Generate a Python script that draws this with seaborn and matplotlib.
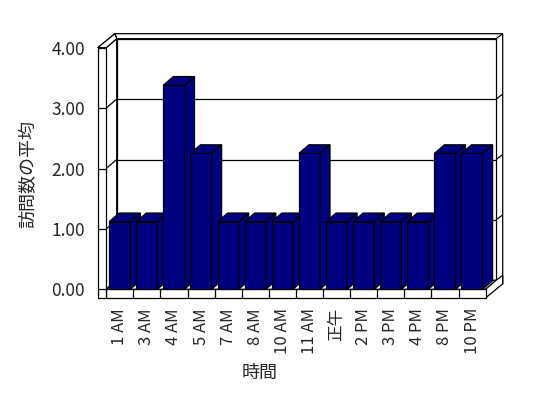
import matplotlib
matplotlib.use("Agg")
import matplotlib.pyplot as plt
from matplotlib.patches import Polygon
import seaborn as sns
import pandas as pd

# ---- data ----
hours = ["1 AM", "3 AM", "4 AM", "5 AM", "7 AM", "8 AM", "10 AM", "11 AM",
         "正午", "2 PM", "3 PM", "4 PM", "8 PM", "10 PM"]
avg_visits = [1.12, 1.12, 3.38, 2.25, 1.12, 1.12, 1.12, 2.25,
              1.12, 1.12, 1.12, 1.12, 2.25, 2.25]
y_ticks = [0, 1, 2, 3, 4]
y_tick_labels = ["0.00", "1.00", "2.00", "3.00", "4.00"]
x_title = "時間"
y_title = "訪問数の平均"

sns.set_style("white")
plt.rcParams["font.family"] = ["Noto Sans CJK JP", "DejaVu Sans"]

W, H = 548, 398
fig = plt.figure(figsize=(W / 100, H / 100), dpi=100)
fig.patch.set_facecolor("white")

# axes box = front plane of the 3D plot
left_px, right_px = 106.2, 485.6
bot_px, top_px = 289.3, 47.7
ax = fig.add_axes([left_px / W, 1 - bot_px / H,
                   (right_px - left_px) / W, (bot_px - top_px) / H])

df = pd.DataFrame({"hour": hours, "avg": avg_visits})
sns.barplot(data=df, x="hour", y="avg", order=hours, color="#000080",
            saturation=1, edgecolor="black", linewidth=0.9, width=0.78, ax=ax)
bars = list(ax.patches)

n = len(hours)
x0, x1 = -0.5, n - 0.5
ymax = 4.0
ax.set_xlim(x0, x1)
ax.set_ylim(0, ymax)
for s in ax.spines.values():
    s.set_visible(False)
ax.set_facecolor("none")

# depth offsets (in data units)
px_cat = (right_px - left_px) / n
px_val = (bot_px - top_px) / ymax
Dx, Dy = 10.5 / px_cat, 9.0 / px_val       # plot depth
Tx, Ty = 6.6 / px_cat, 5.0 / px_val        # back-wall thickness
bDx, bDy = 10.0 / px_cat, 8.6 / px_val     # bar depth
LW = 8.4 / px_cat                          # left wall thickness
FT = 8.6 / px_val                          # floor thickness
lw = 0.9
K = "black"


def line(xs, ys, z=2):
    ax.plot(xs, ys, color=K, lw=lw, clip_on=False, zorder=z,
            solid_capstyle="butt")


def poly(pts, fc="white", z=2):
    ax.add_patch(Polygon(pts, closed=True, facecolor=fc, edgecolor=K,
                         lw=lw, clip_on=False, zorder=z))


# back wall (outer slab + inner plane)
poly([(x0 - LW, ymax), (x0 + Dx, ymax + Dy), (x0 - LW + Dx + Tx, ymax + Dy + Ty)], z=1)
poly([(x0 - LW + Dx + Tx, ymax + Dy + Ty), (x1 + Dx + Tx, ymax + Dy + Ty),
      (x1 + Dx + Tx, -FT + Dy + Ty), (x1 + Dx, Dy), (x1 + Dx, ymax + Dy),
      (x0 + Dx, ymax + Dy)], z=1)
poly([(x0 + Dx, Dy), (x1 + Dx, Dy), (x1 + Dx, ymax + Dy), (x0 + Dx, ymax + Dy)], z=1)
line([x1 + Dx, x1 + Dx + Tx], [ymax + Dy, ymax + Dy + Ty], z=1.5)

# left wall inner side
poly([(x0, 0), (x0 + Dx, Dy), (x0 + Dx, ymax + Dy), (x0, ymax)], z=1.2)
# left wall top
poly([(x0 - LW, ymax), (x0, ymax), (x0 + Dx, ymax + Dy),
      (x0 - LW + Dx + Tx, ymax + Dy + Ty)], z=1.3)

# gridlines
for v in y_ticks[1:-1]:
    line([x0, x0 + Dx], [v, v + Dy], z=1.5)
    line([x0 + Dx, x1 + Dx], [v + Dy, v + Dy], z=1.5)
    line([x1 + Dx, x1 + Dx + Tx], [v + Dy, v + Dy + Ty], z=1.5)

# floor top
poly([(x0, 0), (x1, 0), (x1 + Dx, Dy), (x0 + Dx, Dy)], z=1.6)
# floor right side
poly([(x1, 0), (x1, -FT), (x1 + Dx + Tx, -FT + Dy + Ty), (x1 + Dx + Tx, Dy + Ty),
      (x1 + Dx, Dy)], z=1.7)
# floor front face
poly([(x0, -FT), (x1, -FT), (x1, 0), (x0, 0)], z=3)
for k in range(n - 1):
    line([k + 0.5, k + 0.5], [0, -FT], z=3.5)

# left wall front face
poly([(x0 - LW, -FT), (x0, -FT), (x0, ymax), (x0 - LW, ymax)], z=3)
for v in y_ticks[:-1]:
    line([x0 - LW, x0], [v, v], z=3.5)

# 3D bars: front face from seaborn, plus top and side faces
for i, p in enumerate(bars):
    x, w, h = p.get_x(), p.get_width(), p.get_height()
    z = 10 + 2 * i
    p.set_zorder(z)
    p.set_clip_on(False)
    poly([(x + w, 0), (x + w, h), (x + w + bDx, h + bDy), (x + w + bDx, bDy)],
         fc="#000080", z=z + 0.5)
    poly([(x, h), (x + w, h), (x + w + bDx, h + bDy), (x + bDx, h + bDy)],
         fc="#000080", z=z + 0.5)

# ticks and labels
ax.set_yticks(y_ticks)
ax.set_yticklabels(y_tick_labels)
ax.set_xticks(range(n))
ax.set_xticklabels(hours, rotation=90)
ax.tick_params(axis="y", length=0, pad=15.3, labelsize=12.5)
ax.tick_params(axis="x", length=0, pad=13.5, labelsize=12)
ax.set_xlabel("")
ax.set_ylabel("")

fig.text(260 / W, 1 - 373 / H, x_title, ha="center", va="center", fontsize=13)
fig.text(28 / W, 1 - 174 / H, y_title, ha="center", va="center",
         rotation=90, fontsize=13)

fig.savefig("out.png", dpi=100, facecolor="white")
